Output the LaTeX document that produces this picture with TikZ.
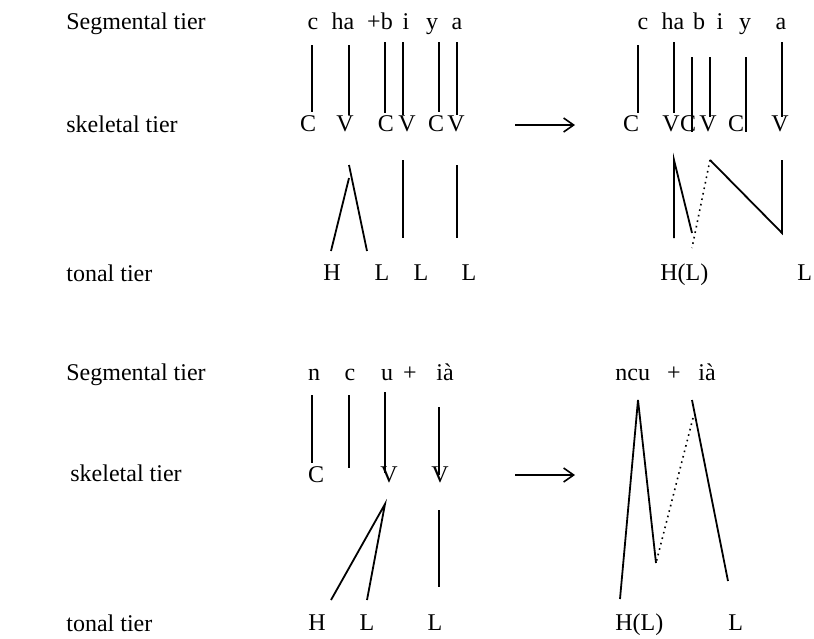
\documentclass[tikz,border=0pt]{standalone}
\usepackage{fontspec}
\setmainfont{Liberation Serif}
\usetikzlibrary{arrows.meta}
\begin{document}
\begin{tikzpicture}[x=0.5pt,y=-0.5pt,
  txt/.style={inner sep=0pt,anchor=base,font=\fontsize{12}{14}\selectfont},
  lbl/.style={txt,anchor=base west},
  assoc/.style={line width=0.9pt},
  delink/.style={line width=0.8pt,dotted},
  derive/.style={line width=0.8pt,-{Straight Barb[length=5pt,width=7pt,line width=0.8pt]}}]
\useasboundingbox (0,0) rectangle (814,638);
% ---------- tier labels ----------
\node[lbl] (seg1) at (66,29) {Segmental tier};
\node[lbl] (ske1) at (66,132) {skeletal tier};
\node[lbl] (ton1) at (66,281) {tonal tier};
\node[lbl] (seg2) at (66,380) {Segmental tier};
\node[lbl] (ske2) at (70,481) {skeletal tier};
\node[lbl] (ton2) at (66,631) {tonal tier};
% ---------- top left ----------
\node[txt] (a1) at (313,29) {c};
\node[txt] (a2) at (343,29) {ha};
\node[txt] (a3) at (380,29) {+b};
\node[txt] (a4) at (406,29) {i};
\node[txt] (a5) at (432,29) {y};
\node[txt] (a6) at (457,29) {a};
\node[txt] (b1) at (308,131) {C};
\node[txt] (b2) at (345,131) {V};
\node[txt] (b3) at (386,131) {C};
\node[txt] (b4) at (407,131) {V};
\node[txt] (b5) at (436,131) {C};
\node[txt] (b6) at (456,131) {V};
\node[txt] (t1) at (332,280) {H};
\node[txt] (t2) at (382,280) {L};
\node[txt] (t3) at (421,280) {L};
\node[txt] (t4) at (469,280) {L};
\coordinate (p1) at (312,45);  \coordinate (q1) at (312,112);
\coordinate (p2) at (349,45);  \coordinate (q2) at (349,115);
\coordinate (p3) at (385,42);  \coordinate (q3) at (385,113);
\coordinate (p4) at (403,42);  \coordinate (q4) at (403,115);
\coordinate (p5) at (439,42);  \coordinate (q5) at (439,112);
\coordinate (p6) at (457,42);  \coordinate (q6) at (457,115);
\foreach \i in {1,...,6} {\draw[assoc] (p\i) -- (q\i);}
\coordinate (r1) at (349,165); \coordinate (s1) at (367,251);
\coordinate (r2) at (349,178); \coordinate (s2) at (331,251);
\coordinate (r3) at (403,160); \coordinate (s3) at (403,238);
\coordinate (r4) at (457,165); \coordinate (s4) at (457,238);
\foreach \i in {1,...,4} {\draw[assoc] (r\i) -- (s\i);}
% arrow
\coordinate (ar1) at (515,125); \coordinate (ar2) at (575,125);
\draw[derive] (ar1) -- (ar2);
% ---------- top right ----------
\node[txt] (c1) at (643,29) {c};
\node[txt] (c2) at (673,29) {ha};
\node[txt] (c3) at (699,29) {b};
\node[txt] (c4) at (720,29) {i};
\node[txt] (c5) at (745,29) {y};
\node[txt] (c6) at (781,29) {a};
\node[txt] (d1) at (631,131) {C};
\node[txt] (d2) at (671,131) {V};
\node[txt] (d3) at (688,131) {C};
\node[txt] (d4) at (708,131) {V};
\node[txt] (d5) at (736,131) {C};
\node[txt] (d6) at (780,131) {V};
\node[lbl] (u1) at (660,280) {H(L)};
\node[lbl] (u2) at (797,280) {L};
\coordinate (e1) at (638,45);  \coordinate (f1) at (638,113);
\coordinate (e2) at (674,42);  \coordinate (f2) at (674,113);
\coordinate (e3) at (692,57);  \coordinate (f3) at (692,132);
\coordinate (e4) at (710,57);  \coordinate (f4) at (710,117);
\coordinate (e5) at (746,57);  \coordinate (f5) at (746,132);
\coordinate (e6) at (782,42);  \coordinate (f6) at (782,117);
\foreach \i in {1,...,6} {\draw[assoc] (e\i) -- (f\i);}
\coordinate (g1) at (674,160); \coordinate (h1) at (674,238); \coordinate (h2) at (692,233);
\coordinate (g2) at (710,160); \coordinate (h3) at (692,248); \coordinate (h4) at (782,233);
\coordinate (g3) at (782,160);
\draw[assoc] (h1) -- (g1) -- (h2);
\draw[delink] (g2) -- (h3);
\draw[assoc] (g2) -- (h4) -- (g3);
% ---------- bottom left ----------
\node[txt] (k1) at (314,380) {n};
\node[txt] (k2) at (350,380) {c};
\node[txt] (k3) at (387,380) {u};
\node[txt] (k4) at (410,380) {+};
\node[txt] (k5) at (445,380) {ià};
\node[txt] (m1) at (316,482) {C};
\node[txt] (m2) at (389,482) {V};
\node[txt] (m3) at (440,482) {V};
\node[txt] (w1) at (317,630) {H};
\node[txt] (w2) at (367,630) {L};
\node[txt] (w3) at (435,630) {L};
\coordinate (n1) at (312,395); \coordinate (o1) at (312,463);
\coordinate (n2) at (349,395); \coordinate (o2) at (349,468);
\coordinate (n3) at (385,392); \coordinate (o3) at (385,473);
\coordinate (n4) at (439,407); \coordinate (o4) at (439,475);
\foreach \i in {1,...,4} {\draw[assoc] (n\i) -- (o\i);}
\coordinate (v1) at (385,504); \coordinate (x1) at (331,600); \coordinate (x2) at (367,600);
\coordinate (v2) at (439,510); \coordinate (x3) at (439,587);
\draw[assoc] (x1) -- (v1) -- (x2);
\draw[assoc] (v2) -- (x3);
% arrow
\coordinate (br1) at (515,475); \coordinate (br2) at (575,475);
\draw[derive] (br1) -- (br2);
% ---------- bottom right ----------
\node[lbl] (y1) at (615,380) {ncu};
\node[txt] (y2) at (674,380) {+};
\node[lbl] (y3) at (698,380) {ià};
\node[lbl] (z1) at (615,630) {H(L)};
\node[lbl] (z2) at (728,630) {L};
\coordinate (ap1) at (638,400); \coordinate (ft1) at (620,599); \coordinate (ft2) at (656,563);
\coordinate (ap2) at (692,400); \coordinate (ft3) at (728,581); \coordinate (dt) at (693,418);
\draw[assoc] (ft1) -- (ap1) -- (ft2);
\draw[assoc] (ap2) -- (ft3);
\draw[delink] (dt) -- (ft2);
\end{tikzpicture}
\end{document}
